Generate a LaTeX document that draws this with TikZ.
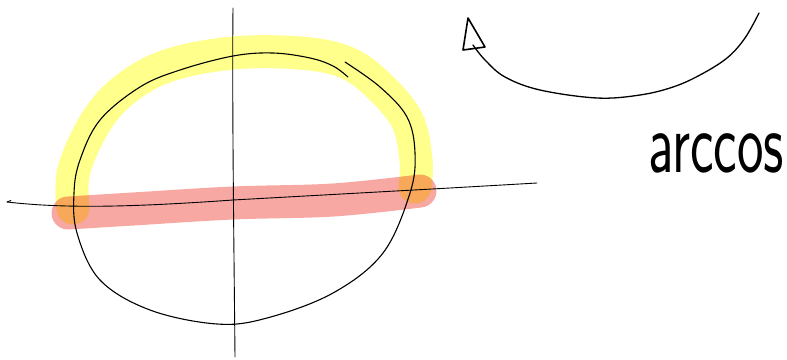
\documentclass[tikz,border=0pt]{standalone}
\usetikzlibrary{calc}
\definecolor{hlyellow}{RGB}{255,255,140}
\definecolor{hlred}{RGB}{247,168,162}
\tikzset{
  ink/.style={draw=black, line width=1.1pt, line cap=round, line join=round},
  marker/.style={line width=33pt, line cap=round, line join=round},
}
\begin{document}
\begin{tikzpicture}[x=1pt,y=-1pt]
\useasboundingbox (0,0) rectangle (787,359);
% highlighter strokes
\draw[marker, hlred] plot[smooth, tension=0.6] coordinates {(68,213) (133,209) (233,203) (333,200) (420,191)};
\begin{scope}[blend mode=multiply]
\draw[marker, hlyellow] plot[smooth, tension=0.6] coordinates {(73,208) (74,170) (97,120) (128,87) (170,65) (233,53) (300,53) (345,62) (377,84) (407,120) (416,160) (415,187)};
\end{scope}
% axes
\coordinate (xl) at (7,202);
\coordinate (xr) at (537,183);
\coordinate (yt) at (233,8);
\coordinate (yb) at (235,357);
\draw[ink, line width=0.9pt] (xl) .. controls (60,208) and (120,208) .. (233,200) -- (450,188) -- (xr);
\draw[ink, line width=0.9pt] (xl) -- ++(4,-1.5);
\draw[ink, line width=0.9pt] (yt) .. controls (232,100) and (234,250) .. (yb);
% ellipse-like curve
\draw[ink] plot[smooth, tension=0.6] coordinates {(348,77) (333,66) (310,58) (273,53) (233,56) (180,70) (140,87) (100,120) (80,160) (74,193) (77,233) (100,280) (150,310) (217,324) (267,318) (333,293) (383,253) (410,193) (415,153) (407,117) (380,87) (345,62)};
% arrow
\coordinate (as) at (759,13);
\coordinate (tip) at (468,18);
\draw[ink, line width=1.3pt] plot[smooth, tension=0.6] coordinates {(as) (745,38) (727,58) (700,75) (673,87) (640,95) (597,98) (540,90) (505,77) (485,60) (473,45)};
\draw[ink, line width=1.6pt] (463,50) -- (tip) -- (485,47) -- cycle;
% label
\node[anchor=base, inner sep=0pt, font=\sffamily\fontsize{88}{90}\selectfont, xscale=0.64, transform shape] (lbl) at (716,172) {arccos};
\end{tikzpicture}
\end{document}
